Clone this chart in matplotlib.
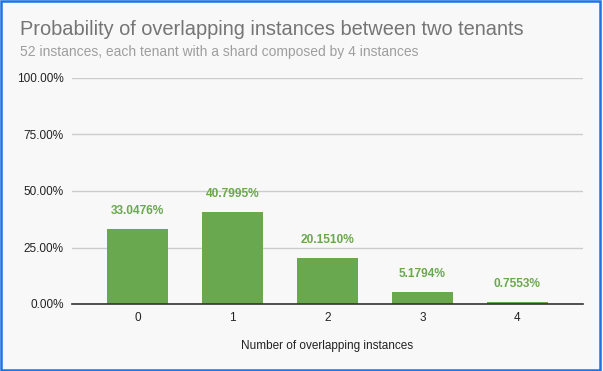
import matplotlib
matplotlib.use('Agg')
import matplotlib.pyplot as plt
from matplotlib.patches import Rectangle
from matplotlib.ticker import FuncFormatter

categories = ['0', '1', '2', '3', '4']
probabilities = [33.0476, 40.7995, 20.1510, 5.1794, 0.7553]
value_labels = ['33.0476%', '40.7995%', '20.1510%', '5.1794%', '0.7553%']
y_ticks = [0, 25, 50, 75, 100]

plt.rcParams['font.family'] = ['Liberation Sans', 'DejaVu Sans']

bg = '#f8f8f8'
green = '#6aa84f'

fig = plt.figure(figsize=(6.03, 3.71), dpi=100)
fig.patch.set_facecolor(bg)
ax = fig.add_axes([72 / 603, 1 - 304 / 371, (583 - 72) / 603, (304 - 78) / 371])
ax.set_facecolor(bg)

x = list(range(len(categories)))
ax.bar(x, probabilities, width=0.65, color=green, zorder=3)
for xi, v, lab in zip(x, probabilities, value_labels):
    ax.annotate(lab, (xi, v), xytext=(0, 11), textcoords='offset points',
                ha='center', va='baseline', color=green, fontsize=8.6, fontweight='bold')

ax.set_xlim(-0.69, 4.69)
ax.set_ylim(0, 100)
ax.set_xticks(x)
ax.set_xticklabels(categories)
ax.set_yticks(y_ticks)
ax.yaxis.set_major_formatter(FuncFormatter(lambda v, p: f'{v:.2f}%'))
ax.grid(axis='y', color='#cccccc', linewidth=1, zorder=0)
for s in ['top', 'right', 'left']:
    ax.spines[s].set_visible(False)
ax.spines['bottom'].set_color('#333333')
ax.spines['bottom'].set_linewidth(1.2)
ax.spines['bottom'].set_zorder(4)
ax.tick_params(axis='both', length=0, labelsize=8.5, colors='#222222')
ax.tick_params(axis='x', pad=6)
ax.tick_params(axis='y', pad=6)
ax.set_xlabel('Number of overlapping instances', fontsize=8.5, color='#222222', labelpad=11.5)

fig.text(20 / 603, 1 - 35 / 371, 'Probability of overlapping instances between two tenants',
         fontsize=14.4, color='#757575', ha='left', va='baseline')
fig.text(20 / 603, 1 - 56 / 371, '52 instances, each tenant with a shard composed by 4 instances',
         fontsize=10, color='#9e9e9e', ha='left', va='baseline')

# blue frame around the chart
fig.patches.append(Rectangle((1 / 603, 1 / 371), 599 / 603, 369 / 371, transform=fig.transFigure,
                             fill=False, edgecolor='#1a73e8', linewidth=1.8))

fig.savefig('out.png', dpi=100, facecolor=bg)
